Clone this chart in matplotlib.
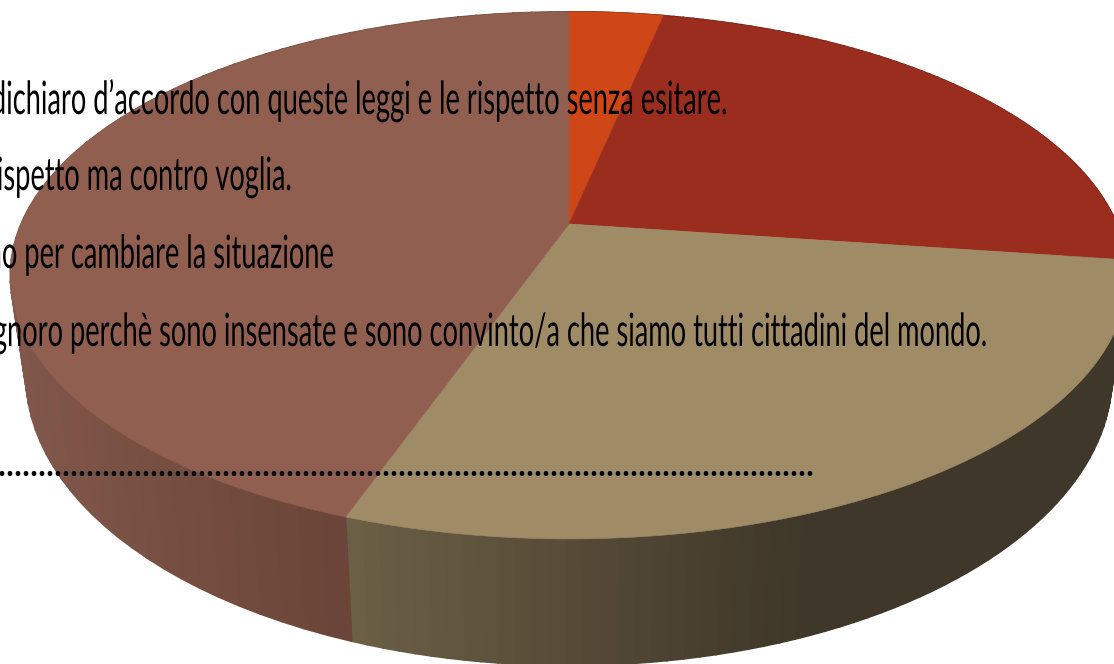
import numpy as np
import matplotlib
matplotlib.use("Agg")
import matplotlib.pyplot as plt
from matplotlib.colors import to_rgb
from matplotlib.patheffects import AbstractPathEffect
from matplotlib.transforms import Affine2D

# data
categories = ["Accordo", "Contro voglia", "Cambiare", "Ignoro"]
values = [3.3, 23.9, 28.2, 44.6]
top_colors = ["#cf4716", "#9b2d1f", "#a08b67", "#905f50"]
side_left = ["#8a3a18", "#5f2016", "#6b5f45", "#80574a"]
side_right = ["#8a3a18", "#5f2016", "#3f3729", "#6a4438"]
lines = [
    "Mi dichiaro d’accordo con queste leggi e le rispetto senza esitare.",
    "Le rispetto ma contro voglia.",
    "Mi impegno per cambiare la situazione",
    "Le ignoro perchè sono insensate e sono convinto/a che siamo tutti cittadini del mondo.",
]
line_right = [728, 292, 334, 988]
line_base = [114, 190, 268, 346]

# geometry of the perspective disc (pixel space)
CX, CY, RX, RY, K = 569, 224, 548, 253.5, 0.195
SX, SY, DEPTH = 0.972, 1.10, 95
FIG_H = 664


class Squeeze(AbstractPathEffect):
    """Narrow and heighten the glyphs about a display anchor position."""

    def __init__(self, sx, sy, x0, y0):
        super().__init__()
        self.sx, self.sy, self.x0, self.y0 = sx, sy, x0, y0

    def draw_path(self, renderer, gc, tpath, affine, rgbFace=None):
        t = affine + Affine2D().translate(-self.x0, -self.y0).scale(self.sx, self.sy).translate(self.x0, self.y0)
        renderer.draw_path(gc, tpath, t, rgbFace)


def top_pt(theta):
    w = 1 + K * np.cos(theta)
    return CX + RX * np.sin(theta) / w, CY - RY * np.cos(theta) / w


def bottom_pt(theta):
    x, y = top_pt(theta)
    return CX + (x - CX) * SX, CY + (y - CY) * SY + DEPTH


fig = plt.figure(figsize=(11.14, 6.64), dpi=100)
ax = fig.add_axes([0, 0, 1, 1])
ax.set_xlim(0, 1114)
ax.set_ylim(FIG_H, 0)
ax.axis("off")

edges = np.radians(np.concatenate([[0], np.cumsum(values)]) * 3.6)

# side wall, drawn as thin shaded strips
for i in range(len(values)):
    th = np.linspace(edges[i], edges[i + 1], 70)
    lo, hi = (349, 800) if i == 2 else (20, 349)
    c0, c1 = np.array(to_rgb(side_left[i])), np.array(to_rgb(side_right[i]))
    for a, b in zip(th[:-1], th[1:]):
        xa, ya = top_pt(np.array([a, b]))
        xb, yb = bottom_pt(np.array([b, a]))
        t = np.clip((top_pt((a + b) / 2)[0] - lo) / (hi - lo), 0, 1)
        ax.fill(np.r_[xa, xb], np.r_[ya, yb], color=c0 + (c1 - c0) * t, lw=1.2, zorder=1)

# top face
for i in range(len(values)):
    th = np.linspace(edges[i], edges[i + 1], 200)
    x, y = top_pt(th)
    ax.fill(np.r_[CX, x], np.r_[CY, y], color=top_colors[i], lw=0.4, zorder=2)

for s, xr, yb in zip(lines, line_right, line_base):
    ax.text(xr, yb, s, ha="right", va="baseline", fontsize=28, color="black",
            family=["Lato", "DejaVu Sans"], zorder=3,
            path_effects=[Squeeze(0.70, 1.18, xr, FIG_H - yb)])
ax.text(814, 476, "." * 132, ha="right", va="baseline", fontsize=20, color="black",
        family=["Open Sans", "DejaVu Sans"], fontweight="bold", zorder=3)

fig.savefig("out.png", dpi=100)
